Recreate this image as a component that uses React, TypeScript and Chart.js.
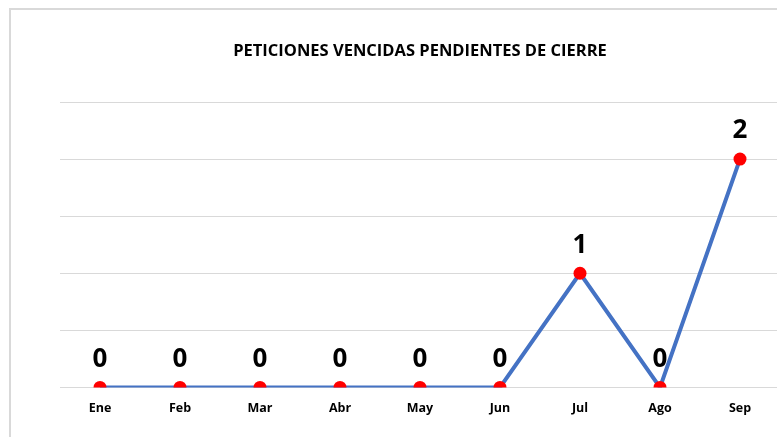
import React, { useEffect, useRef } from "react";
import { Chart, registerables } from "chart.js";

Chart.register(...registerables);

const title = "PETICIONES VENCIDAS PENDIENTES DE CIERRE";
const months = ["Ene", "Feb", "Mar", "Abr", "May", "Jun", "Jul", "Ago", "Sep"];
const values = [0, 0, 0, 0, 0, 0, 1, 0, 2];
const yMin = 0;
const yMax = 2.5;
const yStep = 0.5;

const valueLabels = {
  id: "valueLabels",
  afterDatasetsDraw(chart: any) {
    const ctx = chart.ctx;
    const meta = chart.getDatasetMeta(0);
    const data = chart.data.datasets[0].data as number[];
    ctx.save();
    ctx.font = "bold 26px 'Open Sans', sans-serif";
    ctx.fillStyle = "#000000";
    ctx.textAlign = "center";
    ctx.textBaseline = "middle";
    meta.data.forEach((el: any, i: number) => {
      ctx.fillText(String(data[i]), el.x, el.y - 28);
    });
    ctx.restore();
  },
};

export default function App() {
  const ref = useRef<HTMLCanvasElement>(null);
  useEffect(() => {
    document.body.style.margin = "0";
    document.body.style.overflow = "hidden";
    const chart = new Chart(ref.current!, {
      type: "line",
      data: {
        labels: months,
        datasets: [
          {
            data: values,
            borderColor: "#4472C4",
            borderWidth: 4,
            pointBackgroundColor: "#FF0000",
            pointBorderWidth: 0,
            pointRadius: 6.5,
            pointHoverRadius: 6.5,
            tension: 0,
          },
        ],
      },
      options: {
        responsive: false,
        animation: false,
        layout: { padding: { left: 49, right: 21, top: 0, bottom: 29.6 } },
        plugins: {
          legend: { display: false },
          tooltip: { enabled: false },
          title: {
            display: true,
            text: title,
            color: "#000000",
            font: { family: "'Open Sans', sans-serif", size: 16.5, weight: "bold" },
            padding: { top: 31, bottom: 41.2 },
          },
        },
        scales: {
          x: {
            offset: true,
            grid: { display: false, drawTicks: false },
            border: { display: false },
            ticks: {
              color: "#000000",
              padding: 14,
              font: { family: "'Open Sans', sans-serif", size: 12.5, weight: "bold" },
            },
          },
          y: {
            display: true,
            min: yMin,
            max: yMax,
            ticks: { stepSize: yStep, display: false },
            grid: { color: "#D9D9D9", lineWidth: 1, drawTicks: false },
            border: { display: false },
          },
        },
      },
      plugins: [valueLabels],
    });
    return () => chart.destroy();
  }, []);
  return (
    <div style={{ position: "relative", width: 777, height: 437, overflow: "hidden", background: "#fff" }}>
      <div
        style={{
          position: "absolute",
          left: 9,
          top: 8,
          border: "2px solid #D9D9D9",
          width: 800,
          height: 460,
        }}
      >
        <canvas ref={ref} width={790} height={450} style={{ display: "block" }} />
      </div>
    </div>
  );
}
